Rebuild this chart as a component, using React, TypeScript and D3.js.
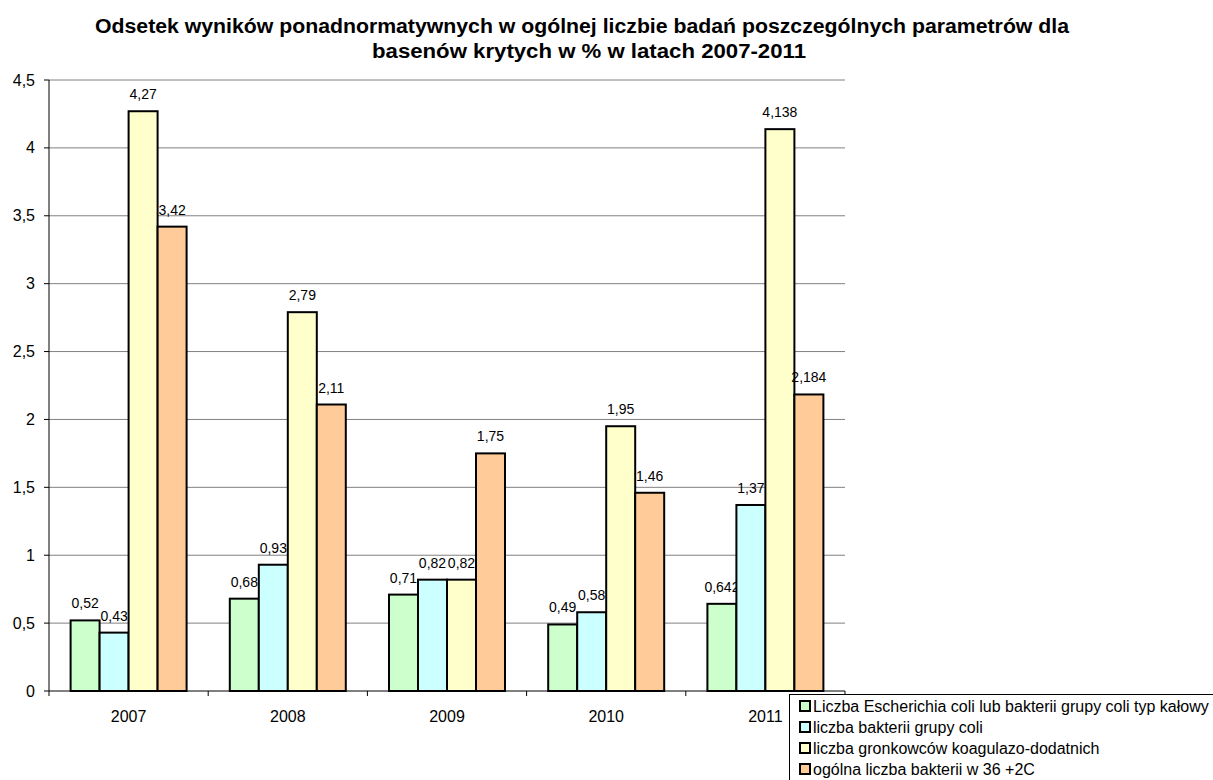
import React from 'react';
import * as d3 from 'd3';

const years = ['2007', '2008', '2009', '2010', '2011'];
const seriesNames = [
  'Liczba Escherichia coli lub bakterii grupy coli typ kałowy',
  'liczba bakterii grupy coli',
  'liczba gronkowców koagulazo-dodatnich',
  'ogólna liczba bakterii w 36 +2C',
];
const eColi = [0.52, 0.68, 0.71, 0.49, 0.642];
const coli = [0.43, 0.93, 0.82, 0.58, 1.37];
const gronkowce = [4.27, 2.79, 0.82, 1.95, 4.138];
const ogolna = [3.42, 2.11, 1.75, 1.46, 2.184];
const yTicks = [0, 0.5, 1, 1.5, 2, 2.5, 3, 3.5, 4, 4.5];
const colors = ['#CCFFCC', '#CCFFFF', '#FFFFCC', '#FFCC99'];

const fmt = (v: number) => String(v).replace('.', ',');

export default function App() {
  const W = 1213, H = 780;
  const left = 49, right = 845, top = 80, bottom = 691;
  const series = [eColi, coli, gronkowce, ogolna];

  const x = d3.scaleBand().domain(years).range([left, right]);
  // four bars sit in the middle ~73% of each category
  const inner = d3.scaleBand<number>()
    .domain([0, 1, 2, 3])
    .range([0, x.bandwidth()])
    .paddingOuter(0.745);
  const y = d3.scaleLinear().domain([0, 4.5]).range([bottom, top]);
  const font = 'Arial, "Liberation Sans", sans-serif';

  return (
    <svg width={W} height={H} style={{ position: 'absolute', left: 0, top: 0 }} fontFamily={font}>
      <rect width={W} height={H} fill="#fff" />
      <text x={582} y={33} textAnchor="middle" fontSize={20} fontWeight="bold"
        textLength={974} lengthAdjust="spacingAndGlyphs">
        Odsetek wyników ponadnormatywnych w ogólnej liczbie badań poszczególnych parametrów dla
      </text>
      <text x={589} y={58} textAnchor="middle" fontSize={20} fontWeight="bold"
        textLength={434} lengthAdjust="spacingAndGlyphs">
        basenów krytych w % w latach 2007-2011
      </text>

      {yTicks.map(t => (
        <g key={t}>
          {t > 0 && <line x1={left} x2={right} y1={y(t)} y2={y(t)} stroke="#808080" strokeWidth={1} />}
          <line x1={left - 5} x2={left} y1={y(t)} y2={y(t)} stroke="#000" />
          <text x={35} y={y(t)} dy="0.35em" textAnchor="end" fontSize={16}>{fmt(t)}</text>
        </g>
      ))}

      {years.map((yr, i) => (
        <g key={yr} transform={`translate(${x(yr)},0)`}>
          {series.map((s, k) => {
            const bx = inner(k)!;
            return (
              <g key={k}>
                <rect x={bx} y={y(s[i])} width={inner.bandwidth()} height={bottom - y(s[i])}
                  fill={colors[k]} stroke="#000" strokeWidth={2} />
                <text x={bx + inner.bandwidth() / 2} y={y(s[i]) - 12} textAnchor="middle" fontSize={14}>
                  {fmt(s[i])}
                </text>
              </g>
            );
          })}
          <text x={x.bandwidth() / 2} y={722} textAnchor="middle" fontSize={16}>{yr}</text>
        </g>
      ))}

      <line x1={left} x2={left} y1={top} y2={bottom} stroke="#000" />
      <line x1={left} x2={right} y1={bottom} y2={bottom} stroke="#000" />
      {[...years.map(yr => x(yr)!), right].map((tx, i) => (
        <line key={i} x1={tx} x2={tx} y1={bottom} y2={bottom + 5} stroke="#000" />
      ))}

      <rect x={789.5} y={694.5} width={430} height={95} fill="#fff" stroke="#000" />
      {seriesNames.map((n, k) => (
        <g key={n} transform={`translate(0,${706 + k * 21})`}>
          <rect x={800} y={-5} width={10} height={10} fill={colors[k]} stroke="#000" strokeWidth={2} />
          <text x={813} y={0} dy="0.36em" fontSize={16}>{n}</text>
        </g>
      ))}
    </svg>
  );
}
